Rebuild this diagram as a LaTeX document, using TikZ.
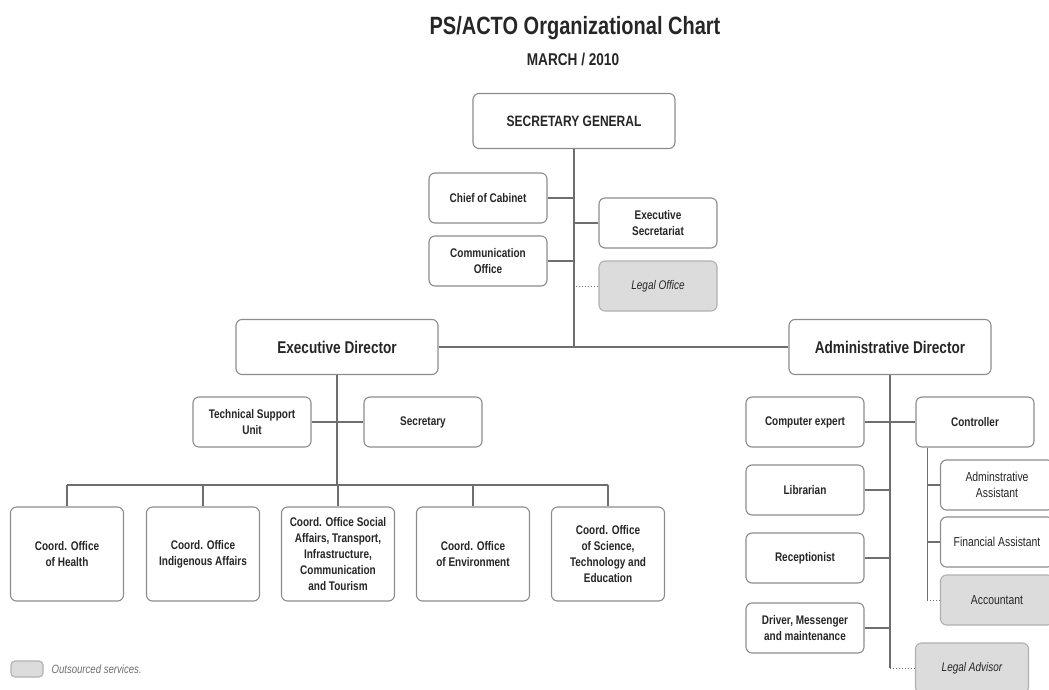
\documentclass[tikz,border=0pt]{standalone}
\usepackage{fontspec}
\setmainfont[FakeStretch=0.8]{Liberation Sans}
\definecolor{ink}{HTML}{262626}
\definecolor{boxgray}{HTML}{8C8C8C}
\definecolor{linegray}{HTML}{6E6E6E}
\definecolor{outfill}{HTML}{DCDCDC}
\begin{document}
\begin{tikzpicture}[x=1pt,y=-1pt]
		\tikzstyle{unit}=[draw=boxgray,line width=1.1pt,rounded corners=6pt,fill=white,align=center,text=ink,inner sep=2pt,font=\bfseries\fontsize{12.5}{16}\selectfont]
		\tikzstyle{head}=[unit,minimum width=202pt,minimum height=55pt,font=\bfseries\fontsize{17}{20}\selectfont]
		\tikzstyle{small}=[unit,minimum width=118pt,minimum height=50pt]
		\tikzstyle{coord}=[unit,minimum width=113pt,minimum height=94pt]
		\tikzstyle{plain}=[small,font=\fontsize{13}{16}\selectfont]
		\tikzstyle{outsourced}=[small,fill=outfill,draw=outfill!80!black,font=\itshape\fontsize{12.5}{16}\selectfont]
		\tikzstyle{link}=[draw=linegray,line width=1.6pt]
		\tikzstyle{dotlink}=[draw=linegray,line width=1pt,dotted]
		\useasboundingbox (0,0) rectangle (1049,690);
		\clip (0,0) rectangle (1049,690);
		
		\node[text=ink,font=\bfseries\fontsize{25}{29}\selectfont](title) at (575,28){PS/ACTO Organizational Chart};
		\node[text=ink,font=\bfseries\fontsize{17}{20}\selectfont](date) at (573,60){MARCH / 2010};
		
		\node[head,font=\bfseries\fontsize{15}{18}\selectfont](sg) at (574,121){SECRETARY GENERAL};
		\node[small](coc) at (488,198){Chief of Cabinet};
		\node[small](com) at (488,261){Communication\\Office};
		\node[small](exs) at (658,223){Executive\\Secretariat};
		\node[outsourced](lo) at (658,286){Legal Office};
		
		\node[head](ed) at (337,347){Executive Director};
		\node[head](ad) at (890,347){Administrative Director};
		
		\node[small](tsu) at (252,422){Technical Support\\Unit};
		\node[small](sec) at (423,422){Secretary};
		
		\node[coord](co-1) at (67,554){Coord. Office\\of Health};
		\node[coord](co-2) at (203,554){Coord. Office\\Indigenous Affairs};
		\node[coord](co-3) at (338,554){Coord. Office Social\\Affairs, Transport,\\Infrastructure,\\Communication\\and Tourism};
		\node[coord](co-4) at (473,554){Coord. Office\\of Environment};
		\node[coord](co-5) at (608,554){Coord. Office\\of Science,\\Technology and\\Education};
		
		\node[small](ce) at (805,422){Computer expert};
		\node[small](ctl) at (975,422){Controller};
		\node[small](lib) at (805,490){Librarian};
		\node[small](rec) at (805,558){Receptionist};
		\node[small](drv) at (805,628){Driver, Messenger\\and maintenance};
		\node[plain,minimum width=113pt](aa) at (997,485){Adminstrative\\Assistant};
		\node[plain,minimum width=113pt](fa) at (997,542){Financial Assistant};
		\node[outsourced,minimum width=113pt,font=\fontsize{13}{16}\selectfont](acc) at (997,600){Accountant};
		\node[outsourced,minimum width=113pt](la) at (972,668){Legal Advisor};
		
		\node[outsourced,minimum width=32pt,minimum height=16pt,inner sep=0pt,rounded corners=4pt](key) at (27,669){};
		\node[anchor=west,text=linegray,font=\itshape\fontsize{12}{14}\selectfont](key-text) at (48,669){Outsourced services.};
		
		% secretary general
		\coordinate (sg-end) at (sg.south |- ed.east);
		\path[link] (sg.south) -- (sg-end);
		\path[link] (ed.east) -- (ad.west);
		\path[link] (coc.east) -- (coc.east -| sg.south);
		\path[link] (com.east) -- (com.east -| sg.south);
		\path[link] (exs.west) -- (exs.west -| sg.south);
		\path[dotlink] ([xshift=2pt]lo.west -| sg.south) -- (lo.west);
		
		% executive director
		\coordinate (bus) at (ed.south |- 0,485);
		\path[link] (ed.south) -- (bus);
		\path[link] (tsu.east) -- (sec.west);
		\path[link] (co-1.north |- bus) -- (co-5.north |- bus);
		\foreach \y in {1,...,5}
		\path[link] (co-\y.north) -- (co-\y.north |- bus);
		
		% administrative director
		\coordinate (ad-end) at (ad.south |- la.west);
		\path[link] (ad.south) -- (ad-end);
		\path[dotlink] (ad-end) -- (la.west);
		\foreach \n in {ce,lib,rec,drv}
		\path[link] (\n.east) -- (\n.east -| ad.south);
		\path[link] (ce.east) -- (ctl.west);
		\coordinate (ctl-j) at ([xshift=12pt]ctl.south west);
		\coordinate (ctl-end) at (ctl-j |- acc.west);
		\path[link] (ctl-j) -- (ctl-end);
		\foreach \n in {aa,fa}
		\path[link] (\n.west) -- (\n.west -| ctl-j);
		\path[dotlink] (ctl-end) -- (acc.west);
\end{tikzpicture}
\end{document}
